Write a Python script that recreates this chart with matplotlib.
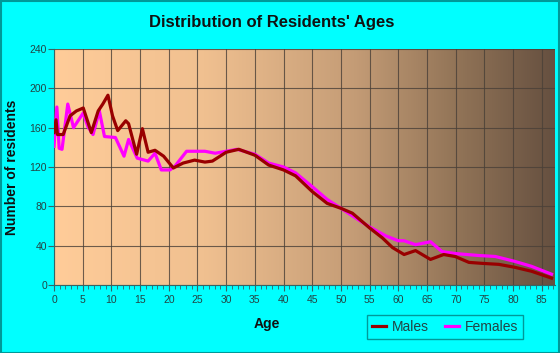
import numpy as np
import matplotlib
matplotlib.use("Agg")
import matplotlib.pyplot as plt
from matplotlib.colors import LinearSegmentedColormap

title = "Distribution of Residents' Ages"
x_label = "Age"
y_label = "Number of residents"
x_ticks = list(range(0, 90, 5))
y_ticks = list(range(0, 241, 40))

males_age = [0, 0.35, 0.6, 1.6, 2.8, 3.9, 5.1, 6.5, 7.7, 8.5, 9.4, 10.2, 11.1, 12.5, 13.0,
             14.4, 15.4, 16.4, 17.6, 19.1, 20.8, 22.5, 24.5, 26.3, 27.6, 30, 32.2, 35, 37.4,
             40, 42.1, 45, 47.6, 50, 52, 55, 57.2, 59, 61, 63, 65.6, 67.9, 69.9, 72.3, 74.6,
             77.5, 80.3, 83.2, 86.7]
males_val = [155, 168, 153, 153, 172, 177, 180, 155, 177, 184, 193, 172, 157, 167, 164,
             133, 159, 135, 137, 131, 119, 124, 127, 125, 126, 135, 138, 132, 122,
             117, 111, 95, 83, 78, 73, 58, 48, 38, 31, 35, 26, 31, 29, 23, 22,
             21, 18, 14, 7]

females_age = [0, 0.5, 0.9, 1.4, 2.4, 3.4, 5.1, 5.9, 6.8, 7.9, 8.8, 10.7, 12.2, 13.0, 14.5,
               16.4, 17.6, 18.7, 20.2, 21.1, 23.1, 26.3, 28.1, 31.9, 35, 37.4, 40, 42.1, 45,
               47.6, 50, 52.6, 55, 57.8, 60, 61, 63, 65.6, 67.6, 69.9, 74, 76.9, 80.3, 83.2, 86.7]
females_val = [141, 181, 139, 138, 184, 160, 175, 161, 153, 177, 151, 150, 131, 148, 129,
               126, 134, 117, 117, 121, 136, 136, 134, 138, 133, 124, 120, 114, 100,
               87, 78, 68, 59, 50, 45, 45, 41, 44, 34, 32, 30, 29, 24, 19, 11]

W, H = 560, 353
fig = plt.figure(figsize=(W / 100, H / 100), dpi=100)
fig.patch.set_facecolor("#00ffff")
# border
fig.add_artist(plt.Rectangle((0.5 / W, 0.5 / H), 1 - 1.5 / W, 1 - 1.5 / H, transform=fig.transFigure,
                             fill=False, edgecolor="#009999", linewidth=1.5))

ax = fig.add_axes([54 / W, 1 - 285 / H, (555 - 54) / W, (285 - 49) / H])
ax.set_xlim(0, 87.3)
ax.set_ylim(0, 240)

cmap = LinearSegmentedColormap.from_list("bg", [(0, "#ffcc99"), (0.3, "#f0c090"),
                                               (0.6, "#c49c76"), (0.8, "#937558"),
                                               (1.0, "#665040")])
grad = np.linspace(0, 1, 256).reshape(1, -1)
ax.imshow(grad, cmap=cmap, aspect="auto", extent=[0, 1, 0, 1], transform=ax.transAxes, zorder=0)

ax.set_xticks(x_ticks)
ax.set_yticks(y_ticks)
ax.set_xticks(range(0, 88), minor=True)
ax.grid(True, which="major", color="#4a4038", linewidth=0.8, alpha=0.8, zorder=1)

ax.plot(females_age, females_val, color="#ff00ff", linewidth=2.3, zorder=3, label="Females",
        solid_joinstyle="round")
ax.plot(males_age, males_val, color="#990000", linewidth=2.3, zorder=4, label="Males",
        solid_joinstyle="round")

for s in ["top", "right"]:
    ax.spines[s].set_visible(False)
ax.spines["left"].set_color("#336666")
ax.spines["bottom"].set_color("#336666")
ax.tick_params(axis="both", which="both", colors="#336666", labelcolor="#224444", labelsize=7.5)
ax.tick_params(axis="x", which="major", length=4)
ax.tick_params(axis="x", which="minor", length=3)
ax.tick_params(axis="y", length=4, pad=1)
for lbl in ax.get_xticklabels():
    lbl.set_fontfamily("Liberation Sans")
for lbl in ax.get_yticklabels():
    lbl.set_fontfamily("Liberation Sans")

fig.text(272 / W, 1 - 23 / H, title, ha="center", va="center", fontsize=12, fontweight="bold",
         family="Liberation Sans", color="#111111")
fig.text(12 / W, 1 - 167 / H, y_label, ha="center", va="center", rotation=90, fontsize=10,
         fontweight="bold", family="Liberation Sans", color="#111111")
fig.text(267 / W, 1 - 324 / H, x_label, ha="center", va="center", fontsize=10,
         fontweight="bold", family="Liberation Sans", color="#111111")

handles, labels = ax.get_legend_handles_labels()
leg = fig.legend(handles[::-1], labels[::-1], loc="center", bbox_to_anchor=(445 / W, 1 - 327 / H),
                 ncol=2, frameon=True, fancybox=False, handlelength=1.0, handletextpad=0.4,
                 columnspacing=1.2, borderpad=0.35, prop={"family": "Liberation Sans", "size": 10})
leg.get_frame().set_edgecolor("#008080")
leg.get_frame().set_facecolor("#00ffff")
leg.get_frame().set_linewidth(1.0)
for t in leg.get_texts():
    t.set_color("#224444")

fig.savefig("out.png", dpi=100, facecolor=fig.get_facecolor())
